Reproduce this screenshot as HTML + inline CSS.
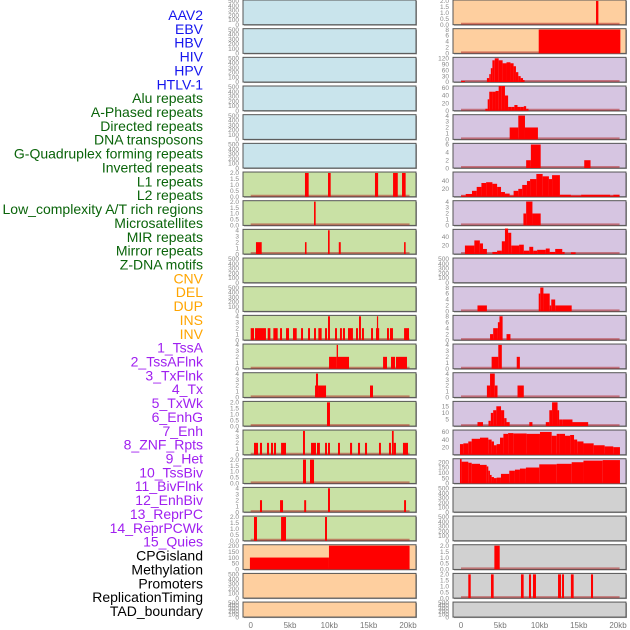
<!DOCTYPE html>
<html><head><meta charset="utf-8"><style>
html,body{margin:0;padding:0;background:#fff;width:630px;height:630px;overflow:hidden}
svg{display:block}
</style></head><body>
<svg id="chart" width="630" height="630" xmlns="http://www.w3.org/2000/svg" font-family="Liberation Sans, sans-serif"></svg>
<script>
// ---- labels ----
const trackLabels=["AAV2","EBV","HBV","HIV","HPV","HTLV-1","Alu repeats","A-Phased repeats","Directed repeats","DNA transposons","G-Quadruplex forming repeats","Inverted repeats","L1 repeats","L2 repeats","Low_complexity A/T rich regions","Microsatellites","MIR repeats","Mirror repeats","Z-DNA motifs","CNV","DEL","DUP","INS","INV","1_TssA","2_TssAFlnk","3_TxFlnk","4_Tx","5_TxWk","6_EnhG","7_Enh","8_ZNF_Rpts","9_Het","10_TssBiv","11_BivFlnk","12_EnhBiv","13_ReprPC","14_ReprPCWk","15_Quies","CPGisland","Methylation","Promoters","ReplicationTiming","TAD_boundary"];
const labelColors=["#1515ee","#1515ee","#1515ee","#1515ee","#1515ee","#1515ee","#0a640a","#0a640a","#0a640a","#0a640a","#0a640a","#0a640a","#0a640a","#0a640a","#0a640a","#0a640a","#0a640a","#0a640a","#0a640a","#ffa500","#ffa500","#ffa500","#ffa500","#ffa500","#a020f0","#a020f0","#a020f0","#a020f0","#a020f0","#a020f0","#a020f0","#a020f0","#a020f0","#a020f0","#a020f0","#a020f0","#a020f0","#a020f0","#a020f0","#000","#000","#000","#000","#000"];
const xTicks=[0,5000,10000,15000,20000];
const xTickLabels=["0","5kb","10kb","15kb","20kb"];
// panel fill per row: left / right
const leftFill=["b","b","b","b","b","b","g","g","g","g","g","g","g","g","g","g","g","g","g","o","o","o"];
const rightFill=["o","o","p","p","p","p","p","p","p","p","p","p","p","p","p","p","p","g2","g2","g2","g2","g2"];
// y maxima (value at panel top) and ticks per panel
const emptyTicks=[0,100,200,300,400,500];
const leftYTop=[520,520,520,520,520,520,2.08,2.08,4.15,520,520,4.15,4.15,4.15,2.08,4.15,2.08,4.15,2.08,208,520,520];
const leftTicks=[emptyTicks,emptyTicks,emptyTicks,emptyTicks,emptyTicks,emptyTicks,[0,0.5,1,1.5,2],[0,0.5,1,1.5,2],[0,1,2,3,4],emptyTicks,emptyTicks,[0,1,2,3,4],[0,1,2,3,4],[0,1,2,3,4],[0,0.5,1,1.5,2],[0,1,2,3,4],[0,0.5,1,1.5,2],[0,1,2,3,4],[0,0.5,1,1.5,2],[0,50,100,150,200],emptyTicks,emptyTicks];
const rightYTop=[2.08,8.3,125,65,4.15,6.3,63,4.15,58,520,8.3,8.3,4.15,4.15,18.7,65,233,520,520,2.08,2.08,520];
const rightTicks=[[0,0.5,1,1.5,2],[0,2,4,6,8],[0,30,60,90,120],[0,20,40,60],[0,1,2,3,4],[0,2,4,6],[20,40],[0,1,2,3,4],[20,40],emptyTicks,[0,2,4,6,8],[0,2,4,6,8],[0,1,2,3,4],[0,1,2,3,4],[5,10,15],[20,40,60],[0,50,100,150,200],emptyTicks,emptyTicks,[0,0.5,1,1.5,2],[0,0.5,1,1.5,2],emptyTicks];
// ---- series data: [startKb, endKb, value] ----
const L6=[[6.9,7.37,2],[9.83,10.17,2],[15.8,16.2,2],[18.1,18.7,2],[19.24,19.7,2]];
const L7=[[8.05,8.26,2]];
const L8=[[0.67,1.4,2],[6.9,7.1,2],[9.83,10.04,4],[11.2,11.45,2],[19.5,19.7,2]];
const L11=[[0,0.42,2],[0.55,1.94,2],[2.16,2.5,2],[2.88,3.43,2],[3.73,3.98,2],[4.49,4.87,2],[5.38,5.85,2],[6.4,6.65,2],[7.29,7.54,2],[8.05,8.3,2],[8.6,9.02,2],[9.45,9.7,2],[9.83,10.08,4],[10.72,10.97,2],[11.35,11.6,2],[11.73,11.99,2],[12.37,13.0,2],[13.39,13.64,2],[13.77,14.02,4],[14.15,14.4,2],[15.3,15.55,2],[15.93,16.05,2],[16.05,16.18,4],[16.18,16.31,2],[17.33,17.58,2],[17.71,18.09,2],[19.5,20.13,2]];
const L12=[[9.96,10.93,2],[10.93,11.1,4],[11.1,12.5,2],[16.83,17.33,2],[17.84,18.35,2],[18.47,19.87,2]];
const L13=[[8.18,8.3,2],[8.3,8.56,4],[8.56,9.58,2],[15.17,15.55,2]];
const L14=[[9.7,10.08,2]];
const L15=[[0.42,0.93,2],[1.18,1.44,2],[2.07,2.33,2],[2.58,2.84,2],[2.96,3.22,2],[3.86,4.49,2],[6.65,6.9,4],[7.67,8.3,2],[8.43,8.8,2],[9.45,9.7,2],[9.83,10.08,2],[11.1,11.35,2],[12.63,12.89,2],[13.64,13.9,2],[14.53,14.79,2],[16.31,16.56,2],[17.58,17.84,2],[17.96,18.18,4],[18.18,18.47,2],[19.36,20.0,2]];
const L16=[[6.65,7.03,2],[7.54,8.05,2]];
const L17=[[1.18,1.44,2],[3.73,4.11,2],[6.8,7.05,2],[9.83,10.08,4],[19.5,19.75,2]];
const L18=[[0.42,0.8,2],[3.86,4.49,2],[9.45,9.7,2]];
const L19=[[-0.1,9.95,100],[9.95,20.2,200]];
const R0=[[17.2,17.5,2]];
const R1=[[9.9,20.3,8]];
const R2=[[0,0.5,5],[3.3,3.6,20],[3.6,3.8,40],[3.8,4.0,70],[4.0,4.3,110],[4.3,4.8,120],[4.8,5.3,110],[5.3,5.8,95],[5.8,6.3,100],[6.3,6.7,95],[6.7,7.0,80],[7.0,7.3,50],[7.3,7.6,30],[7.6,7.9,20],[7.9,8.1,10]];
const R3=[[3.1,3.4,5],[3.4,3.6,30],[3.6,4.0,50],[4.0,4.4,50],[4.4,4.8,52],[4.8,5.2,65],[5.2,5.6,65],[5.6,6.0,40],[6.0,6.4,10],[6.4,6.8,10],[6.8,7.2,15],[7.2,7.6,10],[7.6,8.0,10],[8.0,8.3,12],[8.3,8.6,5]];
const R4=[[6.2,7.3,2],[7.3,8.15,4],[8.15,9.8,2]];
const R5=[[8.3,8.9,2],[8.9,10.15,6],[15.7,16.5,2]];
const R6=[[0,0.6,3],[0.6,1.4,7],[1.4,2.0,15],[2.0,2.6,25],[2.6,3.2,35],[3.2,4.0,37],[4.0,4.6,33],[4.6,5.1,25],[5.1,5.6,12],[5.6,6.2,8],[6.2,6.7,3],[6.7,7.3,15],[7.3,7.8,20],[7.8,8.4,30],[8.4,8.8,40],[8.8,9.6,45],[9.6,10.4,58],[10.4,11.2,52],[11.2,11.6,45],[11.6,12.6,55],[12.6,14.0,5],[14.0,15.3,3],[15.3,19.0,5],[19.0,19.4,3],[19.4,20.2,5]];
const R7=[[7.95,8.3,2],[8.3,9.1,4],[9.1,10.15,2]];
const R8=[[0.5,1.7,20],[1.7,2.4,32],[2.4,2.8,25],[2.8,3.3,12],[4.0,4.6,5],[4.6,5.2,8],[5.2,5.6,30],[5.6,6.0,60],[6.0,6.4,50],[6.4,7.4,20],[7.4,8.0,22],[8.0,8.7,8],[8.7,9.2,17],[9.2,9.7,8],[9.7,10.8,10],[10.8,11.3,13],[11.3,12.0,5],[12.0,12.9,12],[12.9,13.2,5],[14.0,14.6,4]];
const R10=[[2.1,3.3,2],[9.9,10.1,6],[10.1,10.5,8],[10.5,11.3,6],[11.3,11.5,2],[11.5,12.0,4],[12.0,14.1,2]];
const R11=[[3.7,4.1,2],[4.1,4.7,4],[4.7,4.9,6],[4.9,5.3,8],[5.8,6.3,2]];
const R12=[[3.9,4.75,2],[4.75,5.2,4],[7.1,7.5,2]];
const R13=[[3.3,3.7,2],[3.7,4.3,4],[4.3,4.65,2],[7.2,8.0,2]];
const R14=[[2.1,2.8,3],[3.5,3.8,4],[3.8,4.1,10],[4.1,4.5,12],[4.5,5.1,15],[5.1,5.5,12],[5.5,5.8,6],[5.8,6.2,3],[8.7,9.1,3],[10.8,11.25,3],[11.25,11.6,12],[11.6,12.3,18],[12.3,12.5,12],[12.5,12.9,5],[12.9,14.2,5],[14.2,16.2,3]];
const R15=[[-0.13,0.3,28],[0.3,0.93,30],[0.93,1.36,35],[1.36,2.42,42],[2.42,3.48,45],[3.48,3.9,40],[3.9,4.2,35],[4.2,4.54,25],[4.54,4.97,28],[4.97,5.4,45],[5.4,6.0,55],[6.0,6.67,57],[6.67,8.36,56],[8.36,10.06,55],[10.06,11.55,60],[11.55,12.19,50],[12.19,12.6,55],[12.6,13.25,55],[13.25,13.9,50],[13.9,14.4,52],[14.4,14.8,40],[14.8,15.6,35],[15.6,16.9,30],[16.9,18.3,25],[18.3,19.4,22],[19.4,20.25,20]];
const R16=[[-0.13,0.08,230],[0.08,0.93,205],[0.93,1.36,195],[1.36,2.42,185],[2.42,3.27,175],[3.27,3.48,160],[3.48,3.69,120],[3.69,3.9,80],[3.9,4.2,60],[4.2,4.54,50],[4.54,5.09,55],[5.09,6.15,90],[6.15,6.87,120],[6.87,7.51,130],[7.51,8.27,140],[8.27,9.97,150],[9.97,12.19,180],[12.19,14.1,185],[14.1,15.6,200],[15.6,18.05,215],[18.05,20.25,220]];
const R19=[[4.25,4.93,2]];
const R20=[[0.93,1.24,2],[3.82,4.16,2],[7.64,7.98,2],[8.66,8.92,2],[9.17,9.55,2],[12.36,12.74,2],[12.87,13.12,2],[14.0,14.35,2],[16.56,16.82,2]];
const leftSeries={6:L6,7:L7,8:L8,11:L11,12:L12,13:L13,14:L14,15:L15,16:L16,17:L17,18:L18,19:L19};
const rightSeries={0:R0,1:R1,2:R2,3:R3,4:R4,5:R5,6:R6,7:R7,8:R8,10:R10,11:R11,12:R12,13:R13,14:R14,15:R15,16:R16,19:R19,20:R20};

const NS="http://www.w3.org/2000/svg";
const svg=document.getElementById('chart');
function mk(tag,attrs,parent){const e=document.createElementNS(NS,tag);for(const k in attrs)e.setAttribute(k,attrs[k]);(parent||svg).appendChild(e);return e;}
const fills={b:"#c9e4ec",g:"#c9e1a5",o:"#fecf9f",p:"#d6c5e1",g2:"#d1d1d1"};
const cols=[{x0:243,x1:416,zero:250.7,scale:7.865},{x0:453,x1:626,zero:461,scale:7.85}];
function rowTop(i){return i*28.67;}
function rowH(i){return i==21?15:24.7;}

// labels
trackLabels.forEach((t,k)=>{
  const e=mk('text',{x:203,y:15+13.86*k+5,'text-anchor':'end','font-size':14,fill:labelColors[k]});
  
  
  e.textContent=t;
});

function drawPanel(ci,i,fill,yTop,ticks,series){
  const c=cols[ci],top=rowTop(i),h=rowH(i),bot=top+h;
  const g=mk('g',{});
  
  
  mk('rect',{x:c.x0+1,y:top+1,width:c.x1-c.x0,height:h,fill:'#999'},g);
  const bg=mk('rect',{x:c.x0,y:top,width:c.x1-c.x0,height:h,fill:fills[fill],stroke:'#555','stroke-width':1},g);
  
  
  const ys=v=>bot-v/yTop*h;
  const xs=kb=>c.zero+kb*c.scale;
  ticks.forEach(t=>{
    const lab=mk('text',{x:c.x0-4,y:ys(t)+2.2,'text-anchor':'end','font-size':6.5,fill:'#888'},g);
    
    
    lab.textContent=(yTop<3)?t.toFixed(1):String(t);
  });
  if(series){
    const bl=mk('line',{x1:xs(0),x2:xs(20.2),y1:bot-1,y2:bot-1,stroke:'#b02020','stroke-opacity':0.5,'stroke-width':2},g);
    
    
    series.forEach(s=>{
      const x1=Math.max(xs(s[0]),c.x0),x2=Math.min(xs(s[1]),c.x1);
      const r=mk('rect',{x:x1,y:ys(s[2]),width:Math.max(x2-x1,1.2),height:bot-ys(s[2]),fill:'#ff0000'},g);
      
      
    });
  }
}
for(let i=0;i<22;i++){
  drawPanel(0,i,leftFill[i],leftYTop[i],leftTicks[i],leftSeries[i]);
  drawPanel(1,i,rightFill[i],rightYTop[i],rightTicks[i],rightSeries[i]);
}
// x axes
cols.forEach((c,ci)=>{
  xTicks.forEach((t,j)=>{
    const e=mk('text',{x:c.zero+t/1000*c.scale,y:628,'text-anchor':'middle','font-size':8,fill:'#777'});
    
    
    e.textContent=xTickLabels[j];
  });
});
</script>
</body></html>
